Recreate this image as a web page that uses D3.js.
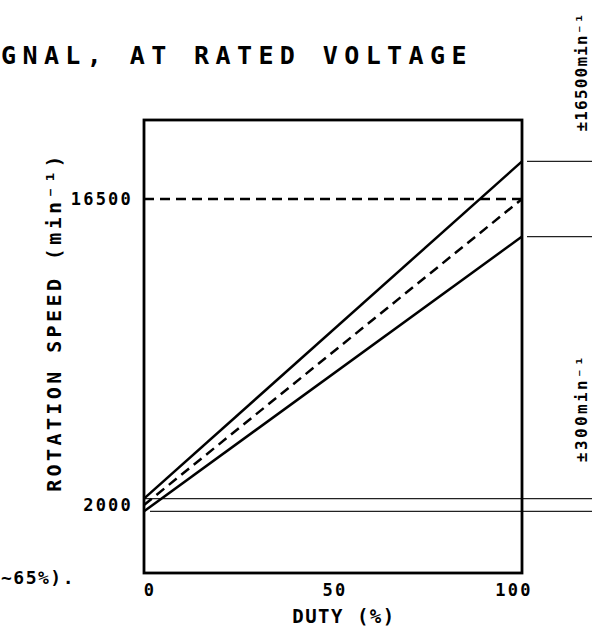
<!DOCTYPE html>
<html>
<head>
<meta charset="utf-8">
<script src="https://cdn.jsdelivr.net/npm/d3@7"></script>
<style>
body { margin: 0; background: #fff; }
text { font-family: 'DejaVu Sans Mono', monospace; fill: #000; }
</style>
</head>
<body>
<script>
// data
var duty = [0, 100]
var upperSpeed = [2300, 18280]
var nominalSpeed = [2000, 16500]
var lowerSpeed = [1700, 14720]
var yTicks = [2000, 16500]
var xTicks = [0, 50, 100]
var toleranceLow = [2300, 1700]

var W = 592, H = 630

var svg = d3.select('body').append('svg')
    .attr('width', W)
    .attr('height', H)

// scales
var x = d3.scaleLinear().domain([0, 100]).range([144, 522])
var y = d3.scaleLinear().domain([2000, 16500]).range([505, 199])
var yTop = y.invert(120), yBot = y.invert(573)

// title fragment (cropped from a larger sheet)
svg.append('text')
    .attr('x', 1).attr('y', 64)
    .attr('font-size', 25)
    .attr('font-weight', 'bold')
    .style('letter-spacing', '6.4px')
    .text('GNAL, AT RATED VOLTAGE')

svg.append('text')
    .attr('x', 1).attr('y', 584)
    .attr('font-size', 18)
    .attr('font-weight', 'bold')
    .style('letter-spacing', '1.5px')
    .text('~65%).')

// thin tolerance lines near 2000
svg.selectAll('.tol')
    .data(toleranceLow)
    .enter().append('line')
    .attr('x1', (d, i) => i === 0 ? x(0) + 1 : x(0) + 6)
    .attr('x2', W)
    .attr('y1', d => y(d))
    .attr('y2', d => y(d))
    .attr('stroke', '#222')
    .attr('stroke-width', 1.2)

// tolerance lines at the right of the box
svg.selectAll('.tolr')
    .data([upperSpeed[1], lowerSpeed[1]])
    .enter().append('line')
    .attr('x1', x(100) + 5)
    .attr('x2', W)
    .attr('y1', d => y(d))
    .attr('y2', d => y(d))
    .attr('stroke', '#222')
    .attr('stroke-width', 1.2)

// dashed reference at 16500
svg.append('line')
    .attr('x1', x(0)).attr('x2', x(100))
    .attr('y1', y(16500)).attr('y2', y(16500))
    .attr('stroke', '#000')
    .attr('stroke-width', 2.5)
    .attr('stroke-dasharray', '10,6')

var line = d3.line()
    .x(d => x(d[0]))
    .y(d => y(d[1]))

svg.append('path')
    .attr('d', line(d3.zip(duty, upperSpeed)))
    .attr('fill', 'none').attr('stroke', '#000').attr('stroke-width', 2.5)

svg.append('path')
    .attr('d', line(d3.zip(duty, lowerSpeed)))
    .attr('fill', 'none').attr('stroke', '#000').attr('stroke-width', 2.5)

svg.append('path')
    .attr('d', line(d3.zip(duty, nominalSpeed)))
    .attr('fill', 'none').attr('stroke', '#000').attr('stroke-width', 2.5)
    .attr('stroke-dasharray', '10,6')

// frame
svg.append('rect')
    .attr('x', x(0)).attr('y', y(yTop))
    .attr('width', x(100) - x(0))
    .attr('height', y(yBot) - y(yTop))
    .attr('fill', 'none')
    .attr('stroke', '#000')
    .attr('stroke-width', 2.8)

// y tick labels
svg.selectAll('.yt')
    .data(yTicks)
    .enter().append('text')
    .attr('x', x(0) - 11)
    .attr('y', d => y(d) + 6)
    .attr('text-anchor', 'end')
    .attr('font-size', 17)
    .attr('font-weight', 'bold')
    .style('letter-spacing', '2.2px')
    .text(d => d)

// x tick labels
svg.selectAll('.xt')
    .data(xTicks)
    .enter().append('text')
    .attr('x', d => x(d) + (d === 0 ? 6 : d === 100 ? -8 : 2))
    .attr('y', 596)
    .attr('text-anchor', 'middle')
    .attr('font-size', 17)
    .attr('font-weight', 'bold')
    .style('letter-spacing', '2.2px')
    .text(d => d)

// axis titles
svg.append('text')
    .attr('x', 344).attr('y', 623)
    .attr('text-anchor', 'middle')
    .attr('font-size', 19)
    .attr('font-weight', 'bold')
    .style('letter-spacing', '1.5px')
    .text('DUTY (%)')

svg.append('text')
    .attr('transform', 'translate(61,322) rotate(-90)')
    .attr('text-anchor', 'middle')
    .attr('font-size', 20)
    .attr('font-weight', 'bold')
    .style('letter-spacing', '3.4px')
    .text('ROTATION SPEED (min⁻¹)')

// tolerance notes on the right
svg.append('text')
    .attr('transform', 'translate(587,72) rotate(-90)')
    .attr('text-anchor', 'middle')
    .attr('font-size', 16)
    .attr('font-weight', 'bold')
    .style('letter-spacing', '1.2px')
    .text('±16500min⁻¹')

svg.append('text')
    .attr('transform', 'translate(587,408) rotate(-90)')
    .attr('text-anchor', 'middle')
    .attr('font-size', 16)
    .attr('font-weight', 'bold')
    .style('letter-spacing', '2.4px')
    .text('±300min⁻¹')
</script>
</body>
</html>
